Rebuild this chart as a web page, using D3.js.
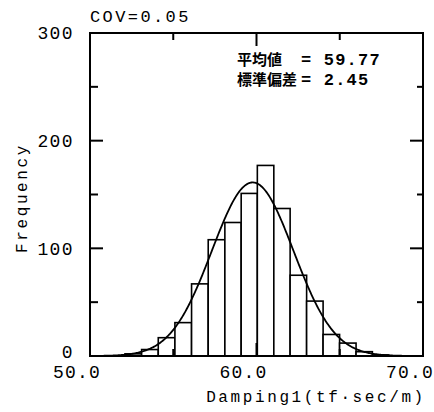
<!DOCTYPE html>
<html>
<head>
<meta charset="utf-8">
<script src="https://cdn.jsdelivr.net/npm/d3@7"></script>
<style>
  html, body { margin: 0; padding: 0; background: #fff; }
  svg { display: block; }
  text { font-family: "Liberation Mono", "DejaVu Sans Mono", monospace; fill: #000; }
  .cjk { font-family: "Noto Sans CJK JP", sans-serif; font-weight: 700; }
</style>
</head>
<body>
<svg id="chart" width="434" height="412"></svg>
<script>
// Histogram of Damping1 samples (COV = 0.05) with fitted normal curve
const binEdges = [52.1, 53.1, 54.1, 55.1, 56.1, 57.1, 58.1, 59.08, 60.05, 61.04, 62.02, 63.01, 64.0, 64.99, 65.98, 66.96, 67.94];
const binCounts = [2, 6, 17, 31, 67, 108, 124, 151, 177, 137, 75, 51, 20, 12, 4, 1];
const xTicks = [50, 60, 70];
const xMinorTicks = [55, 65];
const yTicks = [0, 100, 200, 300];
const yMinorTicks = [50, 150, 250];
const meanValue = 59.77;
const stdValue = 2.45;
const sampleSize = 1000;
const covLabel = "COV=0.05";

const svg = d3.select("#chart");
const plotL = 90, plotR = 423, plotT = 33, plotB = 356;

const x = d3.scaleLinear().domain([50, 70]).range([plotL, plotR]);
const y = d3.scaleLinear().domain([0, 300]).range([plotB, plotT]);

// bars
const bins = binCounts.map((c, i) => ({ x0: binEdges[i], x1: binEdges[i + 1], count: c }));
svg.append("g").selectAll("rect").data(bins).join("rect")
  .attr("x", d => x(d.x0))
  .attr("y", d => y(d.count))
  .attr("width", d => x(d.x1) - x(d.x0))
  .attr("height", d => y(0) - y(d.count))
  .attr("fill", "#fff")
  .attr("stroke", "#000")
  .attr("stroke-width", 1.6);

// fitted normal curve, scaled to counts per bin
const binWidth = (binEdges[binEdges.length - 1] - binEdges[0]) / binCounts.length;
const pdf = v => sampleSize * binWidth / (stdValue * Math.sqrt(2 * Math.PI)) *
  Math.exp(-((v - meanValue) ** 2) / (2 * stdValue * stdValue));
const curveX = d3.range(50, 70.001, 0.05);
svg.append("path")
  .datum(curveX)
  .attr("d", d3.line().x(v => x(v)).y(v => y(pdf(v))))
  .attr("fill", "none")
  .attr("stroke", "#000")
  .attr("stroke-width", 1.8);

// frame
svg.append("rect")
  .attr("x", plotL).attr("y", plotT)
  .attr("width", plotR - plotL).attr("height", plotB - plotT)
  .attr("fill", "none").attr("stroke", "#000").attr("stroke-width", 2);

// inward ticks on all four sides
const tickG = svg.append("g").attr("stroke", "#000").attr("stroke-width", 2);
yTicks.filter(t => t > 0 && t < 300).forEach(t => {
  tickG.append("line").attr("x1", plotL).attr("x2", plotL + 13).attr("y1", y(t)).attr("y2", y(t));
  tickG.append("line").attr("x1", plotR).attr("x2", plotR - 13).attr("y1", y(t)).attr("y2", y(t));
});
yMinorTicks.forEach(t => {
  tickG.append("line").attr("x1", plotL).attr("x2", plotL + 8).attr("y1", y(t)).attr("y2", y(t));
  tickG.append("line").attr("x1", plotR).attr("x2", plotR - 6).attr("y1", y(t)).attr("y2", y(t));
});
xTicks.filter(t => t > 50 && t < 70).forEach(t => {
  tickG.append("line").attr("x1", x(t)).attr("x2", x(t)).attr("y1", plotT).attr("y2", plotT + 13);
  tickG.append("line").attr("x1", x(t)).attr("x2", x(t)).attr("y1", plotB).attr("y2", plotB - 13);
});
xMinorTicks.forEach(t => {
  tickG.append("line").attr("x1", x(t)).attr("x2", x(t)).attr("y1", plotT).attr("y2", plotT + 7);
  tickG.append("line").attr("x1", x(t)).attr("x2", x(t)).attr("y1", plotB).attr("y2", plotB - 7);
});

// y tick labels (the zero label sits a little above its tick)
svg.append("g").selectAll("text").data(yTicks).join("text")
  .attr("x", 74)
  .attr("y", d => d === 0 ? y(d) - 4 : y(d))
  .attr("dy", "0.35em")
  .attr("text-anchor", "end")
  .attr("font-size", 18)
  .attr("letter-spacing", 1.4)
  .text(d => d);

// x tick labels
svg.append("g").selectAll("text").data(xTicks).join("text")
  .attr("x", d => x(d) - 13)
  .attr("y", 378)
  .attr("text-anchor", "middle")
  .attr("font-size", 18)
  .attr("letter-spacing", 1.2)
  .text(d => d.toFixed(1));

// axis titles
svg.append("text")
  .attr("x", 316).attr("y", 402)
  .attr("text-anchor", "middle")
  .attr("font-size", 16)
  .attr("letter-spacing", 2.6)
  .text("Damping1(tf\u00b7sec/m)");

svg.append("text")
  .attr("transform", "translate(27,198) rotate(-90)")
  .attr("text-anchor", "middle")
  .attr("font-size", 16)
  .attr("letter-spacing", 2.6)
  .text("Frequency");

svg.append("text")
  .attr("x", 90).attr("y", 22)
  .attr("font-size", 17)
  .attr("letter-spacing", 2.4)
  .text(covLabel);

// statistics annotation
const ann = svg.append("g");
ann.append("text").attr("class", "cjk").attr("x", 237).attr("y", 65).attr("font-size", 15).text("平均値");
ann.append("text").attr("x", 301).attr("y", 65).attr("font-size", 17).attr("font-weight", 700)
  .attr("letter-spacing", 1.2).text("= " + meanValue.toFixed(2));
ann.append("text").attr("class", "cjk").attr("x", 237).attr("y", 85).attr("font-size", 15).text("標準偏差");
ann.append("text").attr("x", 301).attr("y", 85).attr("font-size", 17).attr("font-weight", 700)
  .attr("letter-spacing", 1.2).text("= " + stdValue.toFixed(2));
</script>
</body>
</html>
